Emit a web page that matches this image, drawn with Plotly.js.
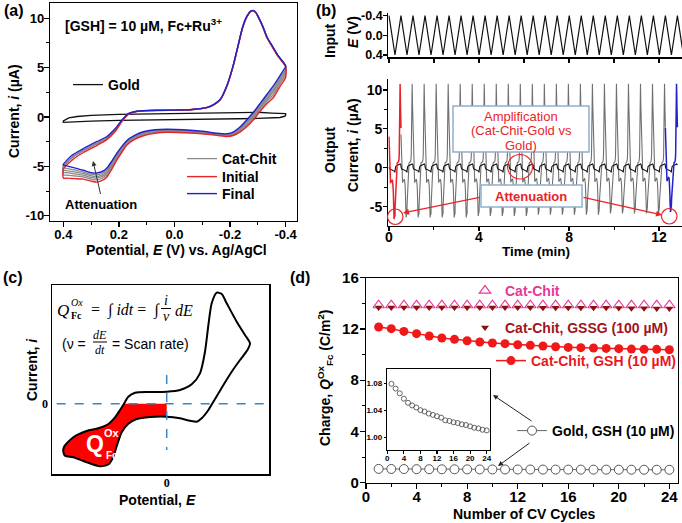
<!DOCTYPE html>
<html><head><meta charset="utf-8">
<script src="https://cdn.plot.ly/plotly-3.0.1.min.js"></script>
<style>html,body{margin:0;padding:0;background:#fff;}#chart{width:682px;height:523px;}</style>
</head><body><div id="chart"></div>
<script>
// ===== Panel (a): cyclic voltammograms =====
const upE = [0.40, 0.37, 0.328, 0.28, 0.244, 0.214, 0.19, 0.166, 0.136, 0.10, 0.05, 0.0, -0.045, -0.07, -0.093, -0.12, -0.14, -0.165, -0.19, -0.21, -0.225, -0.245, -0.26, -0.275, -0.283, -0.293, -0.303, -0.318, -0.333, -0.35, -0.369, -0.385, -0.40];
const upFinal   = [-4.8, -3.9, -3.2, -2.5, -2.0, -1.2, -0.33, 0.34, 0.58, 0.66, 0.68, 0.7, 0.72, 0.78, 0.85, 1.0, 1.25, 1.8, 3.3, 5.1, 6.8, 9.1, 10.2, 10.75, 10.8, 10.6, 10.1, 9.2, 8.1, 7.3, 6.4, 5.8, 5.2];
const upInitial = [-5.3, -4.4, -3.6, -2.9, -2.3, -1.5, -0.5, 0.25, 0.55, 0.64, 0.66, 0.68, 0.7, 0.76, 0.83, 0.97, 1.2, 1.75, 3.2, 5.0, 6.7, 9.0, 10.1, 10.7, 10.75, 10.55, 10.0, 9.1, 8.0, 7.2, 6.3, 5.7, 5.1];
const upGray    = [-5.05, -4.15, -3.4, -2.7, -2.15, -1.35, -0.42, 0.3, 0.56, 0.65, 0.67, 0.69, 0.71, 0.77, 0.84, 0.98, 1.22, 1.78, 3.25, 5.05, 6.75, 9.05, 10.15, 10.72, 10.78, 10.58, 10.05, 9.15, 8.05, 7.25, 6.35, 5.75, 5.15];
const loE = [-0.40, -0.38, -0.357, -0.333, -0.309, -0.285, -0.26, -0.237, -0.213, -0.19, -0.153, -0.10, -0.032, 0.027, 0.07, 0.112, 0.145, 0.172, 0.19, 0.208, 0.226, 0.244, 0.262, 0.28, 0.30, 0.328, 0.36, 0.388, 0.40];
const loFinal   = [5.1, 4.2, 3.2, 2.3, 1.4, 0.5, -0.3, -1.0, -1.5, -1.7, -1.65, -1.45, -1.3, -1.25, -1.3, -1.5, -1.9, -2.4, -3.0, -3.7, -4.5, -5.2, -5.55, -5.68, -5.65, -5.4, -5.15, -4.95, -4.9];
const loInitial = [4.0, 3.1, 2.0, 1.36, 0.6, -0.25, -1.0, -1.5, -1.85, -1.98, -1.86, -1.7, -1.6, -1.55, -1.65, -1.9, -2.3, -2.87, -3.6, -4.4, -5.3, -6.1, -6.45, -6.6, -6.5, -6.3, -6.25, -6.2, -6.2];
const loGray1 = [4.28, 3.38, 2.3, 1.6, 0.8, -0.06, -0.83, -1.38, -1.76, -1.91, -1.81, -1.64, -1.53, -1.48, -1.56, -1.8, -2.2, -2.75, -3.45, -4.23, -5.1, -5.88, -6.23, -6.37, -6.29, -6.08, -5.98, -5.89, -5.88];
const loGray2 = [4.5, 3.6, 2.54, 1.78, 0.96, 0.09, -0.69, -1.28, -1.69, -1.85, -1.77, -1.59, -1.47, -1.42, -1.49, -1.72, -2.12, -2.66, -3.33, -4.09, -4.94, -5.7, -6.05, -6.19, -6.12, -5.9, -5.76, -5.64, -5.62];
const loGray3 = [4.68, 3.78, 2.74, 1.94, 1.1, 0.22, -0.57, -1.19, -1.63, -1.81, -1.73, -1.55, -1.41, -1.36, -1.43, -1.65, -2.05, -2.58, -3.23, -3.97, -4.8, -5.54, -5.89, -6.03, -5.97, -5.74, -5.57, -5.43, -5.39];
const loGray4 = [4.88, 3.98, 2.96, 2.11, 1.24, 0.35, -0.44, -1.1, -1.57, -1.76, -1.69, -1.5, -1.36, -1.31, -1.37, -1.58, -1.98, -2.49, -3.12, -3.84, -4.66, -5.38, -5.73, -5.86, -5.82, -5.58, -5.37, -5.2, -5.16];
const goldUpE = [0.40, 0.38, 0.35, 0.30, 0.20, 0.10, 0.0, -0.10, -0.20, -0.26, -0.30, -0.35, -0.40];
const goldUpI = [-0.4, -0.1, 0.05, 0.17, 0.27, 0.32, 0.35, 0.36, 0.4, 0.5, 0.48, 0.4, 0.35];
const goldLoE = [-0.40, -0.38, -0.30, -0.20, -0.10, 0.0, 0.10, 0.20, 0.30, 0.37, 0.40];
const goldLoI = [0.1, -0.05, -0.15, -0.18, -0.22, -0.25, -0.3, -0.35, -0.42, -0.55, -0.55];

// ===== Panel (b): time axis (start of each CV cycle, min) =====
const cycleStart = [0.000, 0.534, 1.068, 1.602, 2.136, 2.670, 3.204, 3.738, 4.272, 4.806, 5.340, 5.874, 6.408, 6.942, 7.476, 8.010, 8.544, 9.078, 9.612, 10.146, 10.680, 11.214, 11.748, 12.282, 12.816, 13.350];
const scanLimits = [-0.4, 0.4];

// ===== Panel (c): schematic CV =====
const schemE = [-103.4, -102.7, -93.4, -80, -68.4, -58.4, -51.7, -46.7, -42.7, -38.4, -31.7, -16.7, 0, 13.3, 25, 33.3, 38.3, 41.7, 45, 50, 55, 60, 70, 78.3, 83.3, 80.7, 73.3, 65, 56.7, 46.7, 41.7, 35, 30, 23.3, 13.3, 0, -16.7, -30, -38.4, -45, -49.5, -53.5, -58, -66.7, -80, -93.4, -101.7, -103.4];
const schemI = [-48, -43, -33.6, -27.3, -24.6, -20.3, -13.6, -6.3, 0, 7, 11, 11.7, 12, 13.7, 19.4, 30.4, 52, 78.7, 100.4, 111, 109.7, 100.4, 82, 68.7, 60.4, 53.7, 43.7, 32, 18.7, 2, -6.3, -14.6, -18, -17, -14.6, -13, -13.3, -15.3, -20, -28.5, -41, -53.5, -60.6, -62.5, -58.5, -53.5, -52, -48];
const qFillE = [-103.4, -102.7, -93.4, -80, -68.4, -58.4, -51.7, -46.7, -42.7, 0, 0, -16.7, -30, -38.4, -45, -49.5, -53.5, -58, -66.7, -80, -93.4, -101.7, -103.4];
const qFillI = [-48, -43, -33.6, -27.3, -24.6, -20.3, -13.6, -6.3, 0, 0, -13, -13.3, -15.3, -20, -28.5, -41, -53.5, -60.6, -62.5, -58.5, -53.5, -52, -48];

// ===== Panel (d): charge vs cycle =====
const cycles = [1,2,3,4,5,6,7,8,9,10,11,12,13,14,15,16,17,18,19,20,21,22,23,24];
const qCatChit = [13.85,13.85,13.85,13.85,13.85,13.85,13.85,13.85,13.85,13.85,13.85,13.85,13.85,13.85,13.85,13.85,13.85,13.85,13.85,13.85,13.85,13.85,13.85,13.85];
const qGSSG = [13.68,13.68,13.68,13.68,13.68,13.68,13.68,13.68,13.68,13.68,13.68,13.68,13.68,13.66,13.66,13.66,13.66,13.66,13.65,13.64,13.62,13.62,13.6,13.6];
const qGSH = [12.15,12.02,11.81,11.63,11.45,11.29,11.19,11.08,10.98,10.90,10.85,10.77,10.72,10.67,10.61,10.56,10.54,10.51,10.48,10.46,10.43,10.41,10.41,10.38];
const qGold = [1.079,1.072,1.065,1.057,1.051,1.047,1.044,1.040,1.038,1.035,1.033,1.031,1.029,1.025,1.024,1.022,1.021,1.019,1.018,1.016,1.014,1.013,1.011,1.010];

// ---------- helpers ----------
const W = 682, H = 523;
const P = x => x / W, Q = y => 1 - y / H;
const FONT = 'Arial, "Liberation Sans", Helvetica, sans-serif';
const SERIF = '"Liberation Serif", "Times New Roman", serif';
const RED = '#e8232a', BLUE = '#2222cc', GRAY = '#8a8a8a';

function loop(xs1, ys1, xs2, ys2) {
  const x = xs1.concat(xs2), y = ys1.concat(ys2);
  x.push(xs1[0]); y.push(ys1[0]);
  return {x, y};
}
function cycleToTime(k, eLo, iLo, eUp, iUp) {
  const s = cycleStart[k], h = (cycleStart[k + 1] - s) / 2;
  const span = scanLimits[1] - scanLimits[0];
  const t = [], y = [];
  eLo.forEach((e, j) => { t.push(s + (e - scanLimits[0]) / span * h); y.push(iLo[j]); });
  eUp.forEach((e, j) => { t.push(s + h + (scanLimits[1] - e) / span * h); y.push(iUp[j]); });
  return {t, y};
}
function joinCycles(list) {
  const t = [], y = [];
  list.forEach(c => { t.push(...c.t); y.push(...c.y); });
  return {t, y};
}

const traces = [];
// ---- (a)
const gLoop = loop(goldLoE, goldLoI, goldUpE, goldUpI);
traces.push({x: gLoop.x, y: gLoop.y, xaxis: 'x', yaxis: 'y', mode: 'lines', name: 'Gold', legend: 'legend',
  line: {color: '#111', width: 1.3}});
[loGray1, loGray2, loGray3, loGray4].forEach((g, n) => {
  const L = loop(loE, g, upE, upGray);
  traces.push({x: L.x, y: L.y, xaxis: 'x', yaxis: 'y', mode: 'lines', name: 'Cat-Chit', legend: 'legend2',
    showlegend: n === 0, line: {color: GRAY, width: 1.3, shape: 'spline', smoothing: 0.6}});
});
const rLoop = loop(loE, loInitial, upE, upInitial);
traces.push({x: rLoop.x, y: rLoop.y, xaxis: 'x', yaxis: 'y', mode: 'lines', name: 'Initial', legend: 'legend3',
  line: {color: RED, width: 1.4, shape: 'spline', smoothing: 0.6}});
const bLoop = loop(loE, loFinal, upE, upFinal);
traces.push({x: bLoop.x, y: bLoop.y, xaxis: 'x', yaxis: 'y', mode: 'lines', name: 'Final', legend: 'legend4',
  line: {color: BLUE, width: 1.4, shape: 'spline', smoothing: 0.6}});

// ---- (b) input potential
const inT = [], inE = [];
for (let k = 0; k < cycleStart.length - 1; k++) {
  inT.push(cycleStart[k], (cycleStart[k] + cycleStart[k + 1]) / 2);
  inE.push(scanLimits[0], scanLimits[1]);
}
inT.push(cycleStart[cycleStart.length - 1]); inE.push(scanLimits[0]);
traces.push({x: inT, y: inE, xaxis: 'x2', yaxis: 'y2', mode: 'lines', showlegend: false, line: {color: '#111', width: 1.2}});
// ---- (b) output current
const grayLo = [loGray1, loGray2, loGray3, loGray4];
const grayCycles = [];
for (let k = 1; k <= 22; k++) grayCycles.push(cycleToTime(k, loE, grayLo[Math.min(3, Math.floor((k - 1) / 5.5))], upE, upGray));
const gc = joinCycles(grayCycles);
traces.push({x: gc.t, y: gc.y, xaxis: 'x3', yaxis: 'y3', mode: 'lines', showlegend: false, line: {color: '#707070', width: 1.1}});
const goldCycles = [];
for (let k = 0; k <= 23; k++) goldCycles.push(cycleToTime(k, goldLoE, goldLoI, goldUpE, goldUpI));
const gd = joinCycles(goldCycles);
traces.push({x: gd.t, y: gd.y, xaxis: 'x3', yaxis: 'y3', mode: 'lines', showlegend: false, line: {color: '#111', width: 1.1}});
const rc = cycleToTime(0, loE, loInitial, upE, upInitial);
traces.push({x: rc.t, y: rc.y, xaxis: 'x3', yaxis: 'y3', mode: 'lines', showlegend: false, line: {color: RED, width: 1.5}});
const bc = cycleToTime(23, loE, loFinal, upE, upFinal);
traces.push({x: bc.t, y: bc.y, xaxis: 'x3', yaxis: 'y3', mode: 'lines', showlegend: false, line: {color: BLUE, width: 1.5}});

// ---- (c)
traces.push({x: qFillE, y: qFillI, xaxis: 'x4', yaxis: 'y4', mode: 'lines', fill: 'toself', fillcolor: '#ff0000',
  line: {color: '#ff0000', width: 0}, showlegend: false});
traces.push({x: schemE, y: schemI, xaxis: 'x4', yaxis: 'y4', mode: 'lines', showlegend: false,
  line: {color: '#000', width: 2, shape: 'spline', smoothing: 0.7}});

// ---- (d)
traces.push({x: cycles, y: qCatChit, xaxis: 'x5', yaxis: 'y5', mode: 'markers', name: 'Cat-Chit', legend: 'legend5',
  marker: {symbol: 'triangle-up-open', size: 10, color: '#e8379a', line: {width: 1.2}}});
traces.push({x: cycles, y: qGSSG, xaxis: 'x5', yaxis: 'y5', mode: 'markers', name: 'Cat-Chit, GSSG (100 µM)', legend: 'legend6',
  marker: {symbol: 'triangle-down', size: 7, color: '#8b1010'}});
traces.push({x: cycles, y: qGSH, xaxis: 'x5', yaxis: 'y5', mode: 'lines+markers', name: 'Cat-Chit, GSH (10 µM)', legend: 'legend7',
  line: {color: '#f01818', width: 1.5}, marker: {symbol: 'circle', size: 9, color: '#f01818'}});
traces.push({x: cycles, y: qGold, xaxis: 'x5', yaxis: 'y5', mode: 'lines+markers', name: 'Gold, GSH (10 µM)', legend: 'legend8',
  line: {color: '#666', width: 1}, marker: {symbol: 'circle', size: 9, color: '#fff', line: {color: '#555', width: 1}}});
// inset
traces.push({x: cycles, y: qGold, xaxis: 'x6', yaxis: 'y6', mode: 'markers', showlegend: false,
  marker: {symbol: 'circle-open', size: 5, color: '#555', line: {width: 0.9}}});

// ---------- axes ----------
function ax(extra) {
  return Object.assign({showgrid: false, zeroline: false, showline: true, linecolor: '#000', linewidth: 1.2,
    ticks: 'outside', ticklen: 5, tickwidth: 1.2, tickcolor: '#000', tickmode: 'array',
    tickfont: {family: FONT, size: 13, color: '#000', weight: 'bold'}, fixedrange: true}, extra);
}
function minor(vals, len) { return {tickmode: 'array', tickvals: vals, ticks: 'outside', ticklen: len || 3, tickcolor: '#000', tickwidth: 1, showgrid: false}; }

const layout = {
  width: W, height: H, margin: {l: 0, r: 0, t: 0, b: 0}, paper_bgcolor: '#fff', plot_bgcolor: 'rgba(0,0,0,0)',
  showlegend: true,
  xaxis: ax({domain: [P(50), P(297)], anchor: 'y', range: [0.448, -0.441], mirror: true, ticklabelstandoff: -4,
    tickvals: [0.4, 0.2, 0, -0.2, -0.4], ticktext: ['0.4', '0.2', '0.0', '-0.2', '-0.4'], minor: minor([0.3, 0.1, -0.1, -0.3])}),
  yaxis: ax({domain: [Q(221), Q(3)], anchor: 'x', range: [-10.54, 11.55], mirror: true, ticklabelstandoff: -3,
    tickvals: [10, 5, 0, -5, -10], ticktext: ['10', '5', '0', '-5', '-10'], minor: minor([7.5, 2.5, -2.5, -7.5])}),
  xaxis2: ax({domain: [P(388.3), 1], anchor: 'y2', range: [-0.03, 13.02], showticklabels: false,
    tickvals: [0, 2, 4, 6, 8, 10, 12], ticklen: 4}),
  yaxis2: ax({domain: [Q(57.3), Q(13.3)], anchor: 'x2', range: [0.447, -0.449], ticklabelstandoff: -2,
    tickvals: [-0.4, 0, 0.4], ticktext: ['-0.4', '0.0', '0.4'], ticklen: 4,
    tickfont: {family: FONT, size: 12.5, color: '#000', weight: 'bold'}}),
  xaxis3: ax({domain: [P(388.3), 1], anchor: 'y3', range: [-0.03, 13.02], ticklabelstandoff: -6,
    tickvals: [0, 4, 8, 12], ticktext: ['0', '4', '8', '12'], ticklen: 4, minor: minor([2, 6, 10]),
    tickfont: {family: FONT, size: 14, color: '#000', weight: 'bold'}}),
  yaxis3: ax({domain: [Q(225.7), Q(79)], anchor: 'x3', range: [-7.44, 11.4], ticklabelstandoff: -2,
    tickvals: [10, 5, 0, -5], ticktext: ['10', '5', '0', '-5'], ticklen: 4, minor: minor([7.5, 2.5, -2.5]),
    tickfont: {family: FONT, size: 14, color: '#000', weight: 'bold'}}),
  xaxis4: ax({domain: [P(51.7), P(269.3)], anchor: 'y4', range: [-115, 102.6], mirror: true, ticks: '', ticklabelstandoff: -3,
    tickvals: [0], ticktext: ['0'], tickfont: {family: SERIF, size: 12, color: '#000', weight: 'bold'}}),
  yaxis4: ax({domain: [Q(474.3), Q(284.7)], anchor: 'x4', range: [-70.6, 119], mirror: true, ticks: '',
    tickvals: [0], ticktext: ['0'], tickfont: {family: SERIF, size: 12, color: '#000', weight: 'bold'}}),
  xaxis5: ax({domain: [P(366), P(677.7)], anchor: 'y5', range: [0, 24.66], mirror: true, ticklabelstandoff: -5,
    tickvals: [0, 4, 8, 12, 16, 20, 24], ticktext: ['0', '4', '8', '12', '16', '20', '24'], minor: minor([2, 6, 10, 14, 18, 22]),
    tickfont: {family: FONT, size: 15, color: '#000', weight: 'bold'}}),
  yaxis5: ax({domain: [Q(482.7), Q(277.7)], anchor: 'x5', range: [0, 16], mirror: true, ticklabelstandoff: -2,
    tickvals: [0, 4, 8, 12, 16], ticktext: ['0', '4', '8', '12', '16'], minor: minor([2, 6, 10, 14]),
    tickfont: {family: FONT, size: 15, color: '#000', weight: 'bold'}}),
  xaxis6: ax({domain: [P(387.3), P(490)], anchor: 'y6', range: [0, 24.8], mirror: true, ticklen: 2.5, linewidth: 1,
    tickvals: [0, 4, 8, 12, 16, 20, 24], ticktext: ['0', '4', '8', '12', '16', '20', '24'], ticklabelstandoff: -2,
    tickfont: {family: FONT, size: 8, color: '#000', weight: 'bold'}}),
  yaxis6: ax({domain: [Q(450), Q(369)], anchor: 'x6', range: [0.981, 1.101], mirror: true, ticklen: 2.5, linewidth: 1,
    tickvals: [1.00, 1.04, 1.08], ticktext: ['1.00', '1.04', '1.08'],
    tickfont: {family: FONT, size: 8, color: '#000', weight: 'bold'}}),
};

function leg(xpx, ypx, color) {
  return {x: P(xpx), y: Q(ypx), xanchor: 'left', yanchor: 'middle', bgcolor: 'rgba(0,0,0,0)', borderwidth: 0,
    font: {family: FONT, size: 14, color: color, weight: 'bold'}};
}
layout.legend = leg(68, 85, '#000');
layout.legend2 = leg(182, 159, '#000');
layout.legend3 = leg(182, 177, '#000');
layout.legend4 = leg(182, 194, '#000');
layout.legend5 = leg(465, 291, '#e8379a');
layout.legend6 = leg(465, 328, '#a0141c');
layout.legend7 = leg(491, 361, '#e8171c');
layout.legend8 = leg(512, 431, '#000');

function txt(xpx, ypx, text, o) {
  o = o || {};
  return {xref: 'paper', yref: 'paper', x: P(xpx), y: Q(ypx), text: text, showarrow: false,
    xanchor: o.xanchor || 'center', yanchor: 'middle', textangle: o.angle || 0,
    font: {family: o.family || FONT, size: o.size || 14, color: o.color || '#000', weight: o.weight || 'bold'}};
}
function arrow(hx, hy, tx, ty, color, w) {
  return {xref: 'paper', yref: 'paper', x: P(hx), y: Q(hy), ax: tx - hx, ay: ty - hy, axref: 'pixel', ayref: 'pixel',
    text: ' ', showarrow: true, arrowhead: 2, arrowsize: 1, arrowwidth: w, arrowcolor: color, standoff: 0, startstandoff: 0,
    font: {size: 1}};
}
layout.annotations = [
  txt(2, 10, '(a)', {xanchor: 'left', size: 16}),
  txt(326, 10, '(b)', {size: 16}),
  txt(13, 277, '(c)', {size: 16}),
  txt(300, 277, '(d)', {size: 16}),
  // (a)
  txt(63, 25, '[GSH] = 10 µM, Fc+Ru<sup>3+</sup>', {xanchor: 'left'}),
  txt(101, 204, 'Attenuation', {size: 13}),
  arrow(93, 161, 101, 196, '#333', 1),
  txt(14, 111, 'Current, <i>i</i> (µA)', {angle: -90}),
  txt(176, 250, 'Potential, <i>E</i> (V) vs. Ag/AgCl'),
  // (b)
  txt(330, 41, 'Input', {angle: -90}),
  txt(353, 32, '<i>E</i> (V)', {angle: -90}),
  txt(330, 150, 'Output', {angle: -90}),
  txt(353, 145, 'Current, <i>i</i> (µA)', {angle: -90}),
  txt(536, 251.5, 'Time (min)', {size: 13.5}),
  txt(521, 116, 'Amplification', {size: 13, weight: 'normal', color: RED}),
  txt(521, 130.5, '(Cat-Chit-Gold vs', {size: 13, weight: 'normal', color: RED}),
  txt(521, 145, 'Gold)', {size: 13, weight: 'normal', color: RED}),
  txt(531, 196, 'Attenuation', {size: 13, color: RED}),
  arrow(403, 213, 481, 197, RED, 1.2),
  arrow(662, 215, 582, 197, RED, 1.2),
  // (c)
  txt(63, 310, '<i>Q</i>', {family: SERIF, size: 17, weight: 'normal'}),
  txt(76.5, 302.5, '<i>Ox</i>', {family: SERIF, size: 10, weight: 'normal'}),
  txt(76, 315.5, 'Fc', {family: SERIF, size: 10}),
  txt(89, 310.5, '=  ∫ <i>idt</i> =  ∫', {family: SERIF, size: 16, weight: 'normal', xanchor: 'left'}),
  txt(166, 300.5, '<i>i</i>', {family: SERIF, size: 14, weight: 'normal'}),
  txt(166, 316.5, '<i>v</i>', {family: SERIF, size: 14, weight: 'normal'}),
  txt(173, 310.5, '<i>dE</i>', {family: SERIF, size: 16, weight: 'normal', xanchor: 'left'}),
  txt(60, 344, '(ν =', {size: 14, weight: 'normal', xanchor: 'left'}),
  txt(100, 335, '<i>dE</i>', {family: SERIF, size: 12, weight: 'normal'}),
  txt(100, 350, '<i>dt</i>', {family: SERIF, size: 12, weight: 'normal'}),
  txt(110, 344, '= Scan rate)', {size: 14, weight: 'normal', xanchor: 'left'}),
  txt(95, 444, 'Q', {size: 23, color: '#fff'}),
  txt(112, 433, 'Ox', {size: 11, color: '#fff'}),
  txt(112, 455, 'Fc', {size: 10, color: '#fff'}),
  txt(32, 370, 'Current, <i>i</i>', {angle: -90}),
  txt(157, 500, 'Potential, <i>E</i>'),
  // (d)
  txt(325, 378, 'Charge, <i>Q</i><sup>Ox</sup><sub>Fc</sub> (C/m<sup>2</sup>)', {angle: -90}),
  txt(524, 514, 'Number of CV Cycles'),
  arrow(493, 395, 533, 422, '#222', 1),
  arrow(498, 466, 531, 442, '#222', 1),
];

layout.shapes = [
  {type: 'rect', xref: 'paper', yref: 'paper', x0: P(453), x1: P(589), y0: Q(152), y1: Q(106),
    line: {color: '#8fb0cc', width: 1.5}, fillcolor: '#fff', layer: 'above'},
  {type: 'rect', xref: 'paper', yref: 'paper', x0: P(481), x1: P(582), y0: Q(207), y1: Q(185),
    line: {color: '#8fb0cc', width: 1.5}, fillcolor: '#fff', layer: 'above'},
  {type: 'circle', xref: 'paper', yref: 'paper', x0: P(387.5), x1: P(403), y0: Q(224.5), y1: Q(209),
    line: {color: RED, width: 1.2}, layer: 'above'},
  {type: 'circle', xref: 'paper', yref: 'paper', x0: P(661.5), x1: P(677), y0: Q(224), y1: Q(208.5),
    line: {color: RED, width: 1.2}, layer: 'above'},
  {type: 'circle', xref: 'paper', yref: 'paper', x0: P(507.5), x1: P(532.5), y0: Q(179), y1: Q(154.5),
    line: {color: RED, width: 1.2}, layer: 'above'},
  {type: 'line', xref: 'x4', yref: 'y4', x0: -110, x1: 100, y0: 0, y1: 0,
    line: {color: '#3a86c4', width: 1.5, dash: 'dash'}, layer: 'above'},
  {type: 'line', xref: 'x4', yref: 'y4', x0: 0, x1: 0, y0: 28.7, y1: -46.3,
    line: {color: '#3a86c4', width: 1.5, dash: 'dash'}, layer: 'above'},
  {type: 'line', xref: 'paper', yref: 'paper', x0: P(161), x1: P(171), y0: Q(308.5), y1: Q(308.5), line: {color: '#000', width: 1}},
  {type: 'line', xref: 'paper', yref: 'paper', x0: P(93), x1: P(107), y0: Q(342), y1: Q(342), line: {color: '#000', width: 1}},
];

Plotly.newPlot('chart', traces, layout, {staticPlot: true});
</script></body></html>
